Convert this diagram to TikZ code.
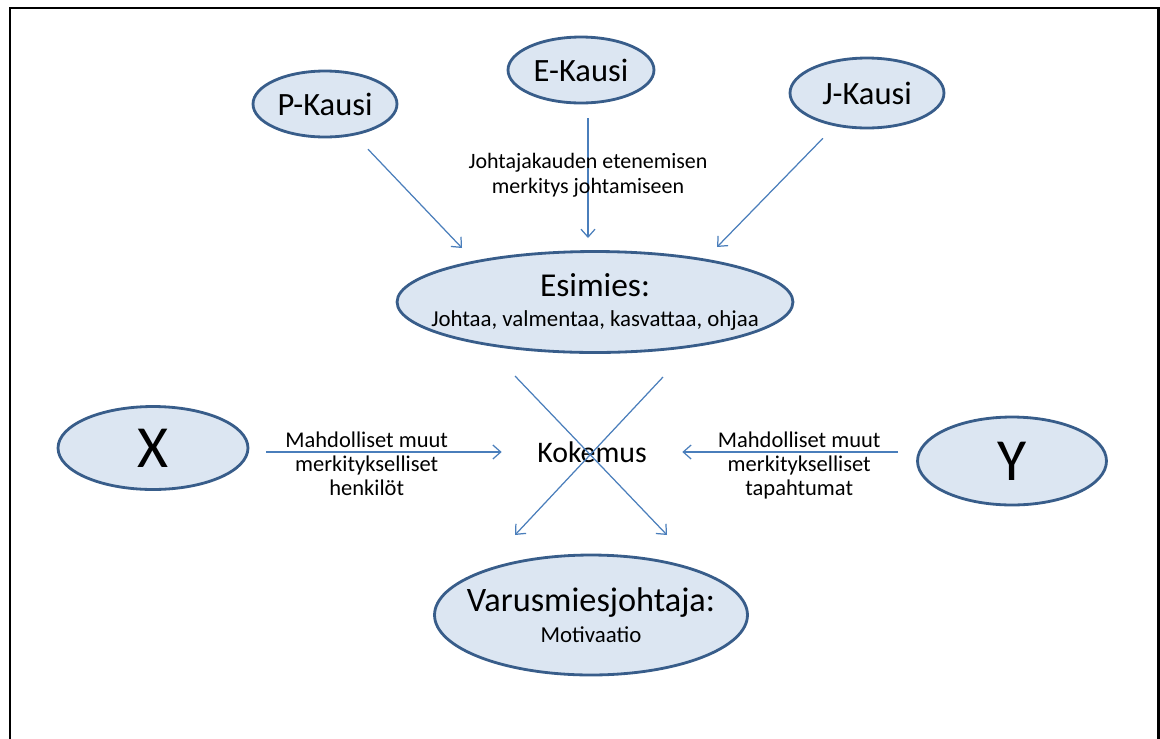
\documentclass[tikz,border=0pt]{standalone}
\usepackage{fontspec}
\setmainfont{Carlito}
\usetikzlibrary{shapes.geometric,arrows.meta}

\definecolor{bubblefill}{RGB}{220,230,242}
\definecolor{bubbleline}{RGB}{56,93,138}
\definecolor{arrowline}{RGB}{74,126,187}

\begin{document}
\begin{tikzpicture}[x=0.02cm, y=-0.02cm,
    bubble/.style={ellipse, fill=bubblefill, draw=bubbleline, line width=1.6pt, inner sep=0pt},
    kausi/.style={bubble, minimum height=1.32cm, font=\fontsize{18.5}{22}\selectfont},
    link/.style={draw=arrowline, line width=0.7pt, -{Straight Barb[length=4.5pt,width=8pt]}},
    note/.style={font=\fontsize{12.8}{13.8}\selectfont, align=center, inner sep=2pt}]
    \useasboundingbox (0,0) rectangle (1160,738);
    \draw[line width=1.7pt] (10,760) -- (10,8) -- (1158,8) -- (1158,760);

    % the three periods
    \node[kausi, minimum width=2.88cm] (P) at (325,104) {P-Kausi};
    \node[kausi, minimum width=2.92cm] (E) at (581,70) {E-Kausi};
    \node[kausi, minimum width=3.08cm, minimum height=1.4cm] (J) at (867,93) {J-Kausi};

    \node[bubble, minimum width=7.92cm, minimum height=2.02cm,
      label={[font=\fontsize{13}{17.6}\selectfont, align=center]center:{{\fontsize{19}{19}\selectfont Esimies:}\\Johtaa, valmentaa, kasvattaa, ohjaa}}] (esi) at (595,302) {};

    \node[bubble, minimum width=3.8cm, minimum height=1.66cm, font=\fontsize{34}{40}\selectfont] (X) at (153,448) {X};
    \node[bubble, minimum width=3.78cm, minimum height=1.76cm, font=\fontsize{34}{40}\selectfont] (Y) at (1012,461) {Y};
    \node[font=\fontsize{17}{20}\selectfont, minimum width=3.6cm] (kok) at (592,452) {Kokemus};

    \node[bubble, minimum width=6.26cm, minimum height=2.4cm,
      label={[font=\fontsize{13}{18}\selectfont, align=center]center:{{\fontsize{19.5}{19.5}\selectfont Varusmiesjohtaja:}\\Motivaatio}}] (var) at (591,615) {};

    % arrow ends
    \coordinate (p1) at (462,248);
    \coordinate (e1) at (588,238);
    \coordinate (j1) at (717,247);
    \coordinate (a0) at (515,376);
    \coordinate (a1) at (667,535);
    \coordinate (b0) at (663,377);
    \coordinate (b1) at (515,535);

    \draw[link, shorten <=0.38cm] (P) -- (p1);
    \draw[link, shorten <=0.28cm] (E.south -| e1) -- node[note, pos=.53, font=\fontsize{12.5}{14.7}\selectfont] {Johtajakauden etenemisen\\merkitys johtamiseen} (e1);
    \draw[link, shorten <=0.34cm] (J) -- (j1);

    \draw[link, shorten <=0.34cm] (X.east |- kok) -- node[note, pos=.465, above] {Mahdolliset muut}
      node[note, pos=.465, below] {merkitykselliset\\henkilöt} (kok.west);
    \draw[link, shorten <=0.36cm] (Y.west |- kok) -- node[note, pos=.5, above] {Mahdolliset muut}
      node[note, pos=.5, below] {merkitykselliset\\tapahtumat} (kok.east);

    \draw[link] (a0) -- (a1);
    \draw[link] (b0) -- (b1);
\end{tikzpicture}
\end{document}
